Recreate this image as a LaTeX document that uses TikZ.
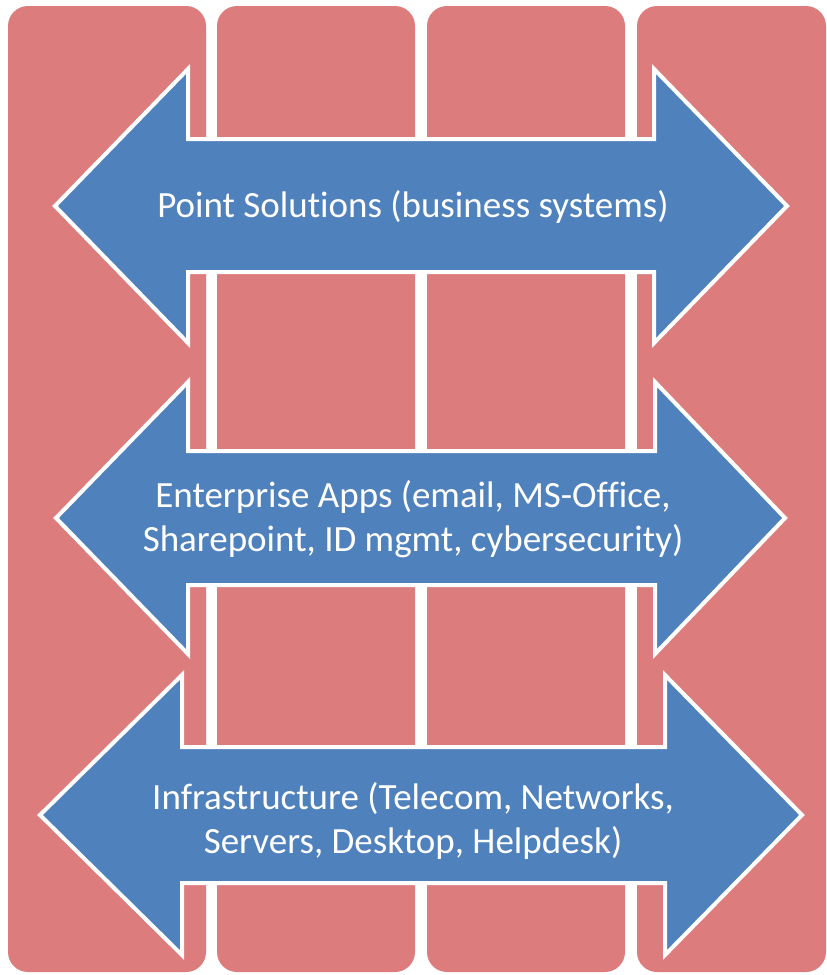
\documentclass[tikz,border=0pt]{standalone}
\usepackage{fontspec}
\setmainfont[Ligatures=NoCommon]{Carlito}
\definecolor{colred}{RGB}{221,124,124}
\definecolor{arrblue}{RGB}{79,129,189}
\begin{document}
\begin{tikzpicture}[x=1pt,y=-1pt,
  column/.style={fill=colred, draw=none, rounded corners=20pt, inner sep=0pt, minimum width=198pt, minimum height=966pt},
  dbl/.style={fill=arrblue, draw=white, line width=4pt, line join=miter, miter limit=3},
  label/.style={text=white, font=\fontsize{37}{44}\selectfont, align=center, inner sep=0pt}]
\useasboundingbox (0,0) rectangle (827,975);
\fill[white] (0,0) rectangle (827,975);
\node[column] (c1) at (107,489) {};
\node[column] (c2) at (316,489) {};
\node[column] (c3) at (526,489) {};
\node[column, minimum width=189pt] (c4) at (731.5,489) {};
% arrow 1
\path[dbl] (55,206) -- (188,69) -- (188,139) -- (654,139) -- (654,69) -- (787,206)
  -- (654,343) -- (654,272) -- (188,272) -- (188,343) -- cycle;
\node[label] (t1) at (413,206.5) {Point Solutions (business systems)};
% arrow 2
\path[dbl] (56,518) -- (188,382) -- (188,451) -- (655,451) -- (655,382) -- (785,518)
  -- (655,654) -- (655,585) -- (188,585) -- (188,654) -- cycle;
\node[label] (t2) at (413,519.5) {Enterprise Apps (email, MS-Office,\\Sharepoint, ID mgmt, cybersecurity)};
% arrow 3
\path[dbl] (40,815) -- (182,675) -- (182,747) -- (665,747) -- (665,675) -- (802,815)
  -- (665,955) -- (665,883) -- (182,883) -- (182,955) -- cycle;
\node[label] (t3) at (413,820.5) {Infrastructure (Telecom, Networks,\\Servers, Desktop, Helpdesk)};
\end{tikzpicture}
\end{document}
